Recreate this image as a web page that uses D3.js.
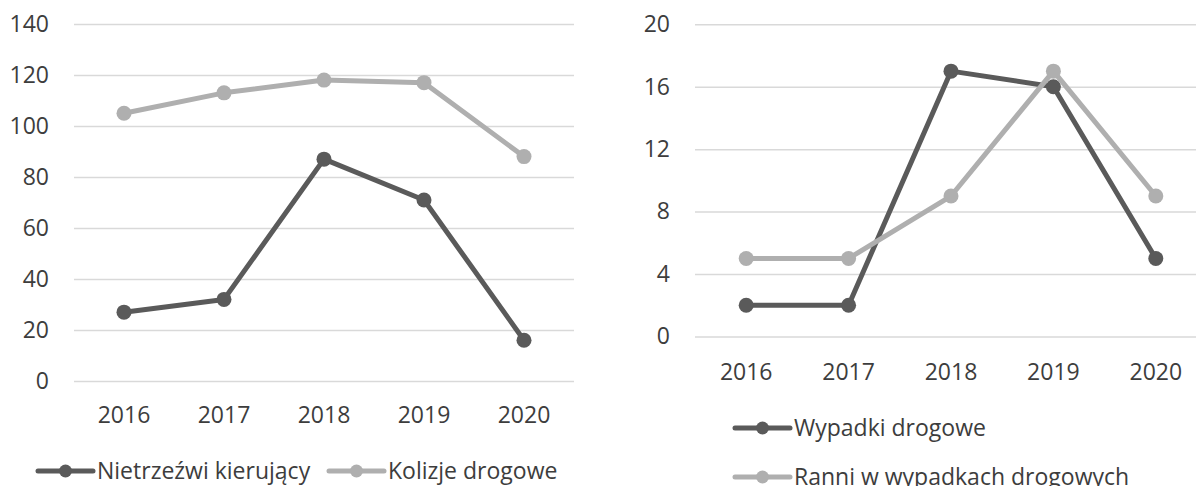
<!DOCTYPE html>
<html>
<head>
<meta charset="utf-8">
<script src="https://cdn.jsdelivr.net/npm/d3@7"></script>
<style>
    body { margin: 0; background: #fff; }
    svg { display: block; }
    .axis text, .legend text { fill: #3d3d3d; font-size: 23px; font-family: "Open Sans", sans-serif; }
    .axis .domain { display: none; }
    .grid line { stroke: #d9d9d9; stroke-width: 1.5; }
</style>
</head>
<body>
<svg></svg>
<script>
(() => {
    const years = ["2016", "2017", "2018", "2019", "2020"];
    // left chart
    const nietrzezwi = [27, 32, 87, 71, 16];
    const kolizje = [105, 113, 118, 117, 88];
    const leftNames = ["Nietrzeźwi kierujący", "Kolizje drogowe"];
    const leftTicks = [0, 20, 40, 60, 80, 100, 120, 140];
    // right chart
    const wypadki = [2, 2, 17, 16, 5];
    const ranni = [5, 5, 9, 17, 9];
    const rightNames = ["Wypadki drogowe", "Ranni w wypadkach drogowych"];
    const rightTicks = [0, 4, 8, 12, 16, 20];

    const dark = "#5a5a5a";
    const light = "#afafaf";

    const svg = d3.select("svg")
        .attr("width", 1196)
        .attr("height", 486);

    function drawChart(cfg) {
        const x = d3.scaleBand().domain(years).range(cfg.xRange);
        const y = d3.scaleLinear().domain(cfg.yDomain).range(cfg.yRange);
        const g = svg.append("g");
        // gridlines + y labels
        g.append("g")
            .attr("class", "axis grid")
            .attr("transform", `translate(${cfg.xRange[0]}, 0)`)
            .call(d3.axisLeft(y)
                .tickValues(cfg.ticks)
                .tickSize(-(cfg.xRange[1] - cfg.xRange[0]))
                .tickPadding(25));
        // x labels
        g.append("g")
            .attr("class", "axis")
            .attr("transform", `translate(0, ${cfg.yRange[0]})`)
            .call(d3.axisBottom(x).tickSize(0).tickPadding(cfg.xPad))
            .selectAll(".tick line").remove();

        const cx = d => x(d) + x.bandwidth() / 2;
        const line = d3.line()
            .x((d, i) => cx(years[i]))
            .y(d => y(d));
        cfg.series.forEach(s => {
            g.append("path")
                .datum(s.values)
                .attr("fill", "none")
                .attr("stroke", s.color)
                .attr("stroke-width", 5)
                .attr("stroke-linejoin", "round")
                .attr("d", line);
            g.append("g")
                .selectAll("circle")
                .data(s.values)
                .join("circle")
                .attr("cx", (d, i) => cx(years[i]))
                .attr("cy", d => y(d))
                .attr("r", 7.5)
                .attr("fill", s.color);
        });
        // legend
        const lg = g.append("g").attr("class", "legend");
        cfg.legend.forEach(l => {
            const it = lg.append("g").attr("transform", `translate(${l.x}, ${l.y})`);
            it.append("line")
                .attr("x1", 0).attr("x2", 55)
                .attr("stroke", l.color)
                .attr("stroke-width", 5)
                .attr("stroke-linecap", "round");
            it.append("circle")
                .attr("cx", 27.5)
                .attr("r", 6.5)
                .attr("fill", l.color);
            it.append("text")
                .attr("x", 59)
                .attr("dy", "0.35em")
                .text(l.name);
        });
    }

    drawChart({
        xRange: [74, 574],
        yDomain: [0, 140],
        yRange: [381, 24],
        ticks: leftTicks,
        xPad: 26,
        series: [
            {values: kolizje, color: light},
            {values: nietrzezwi, color: dark}
        ],
        legend: [
            {name: leftNames[0], color: dark, x: 38, y: 471},
            {name: leftNames[1], color: light, x: 329, y: 471}
        ]
    });

    drawChart({
        xRange: [695, 1207],
        yDomain: [0, 20],
        yRange: [336.5, 24.3],
        ticks: rightTicks,
        xPad: 27,
        series: [
            {values: wypadki, color: dark},
            {values: ranni, color: light}
        ],
        legend: [
            {name: rightNames[0], color: dark, x: 735, y: 428},
            {name: rightNames[1], color: light, x: 735, y: 477}
        ]
    });
})();
</script>
</body>
</html>
